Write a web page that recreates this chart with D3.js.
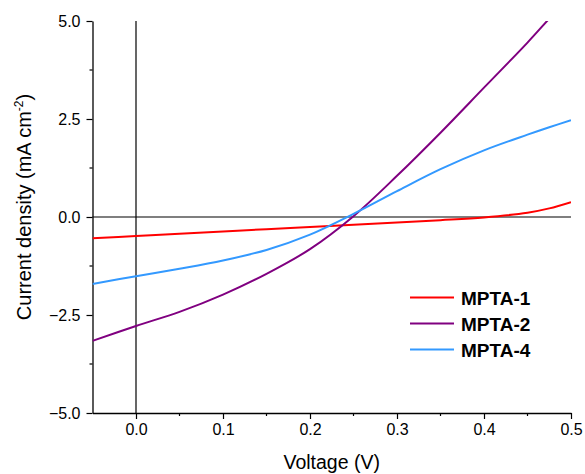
<!DOCTYPE html>
<html><head><meta charset="utf-8">
<script src="https://cdn.jsdelivr.net/npm/d3@7"></script>
<style>body{margin:0;background:#fff}svg{display:block}text{font-family:Arial,"Liberation Sans",sans-serif}</style>
</head><body>
<script>
const voltage = [-0.05, 0.0, 0.05, 0.1, 0.15, 0.2, 0.25, 0.3, 0.35, 0.4, 0.45, 0.475, 0.5];
const mpta1 = [-0.54, -0.485, -0.43, -0.37, -0.31, -0.255, -0.2, -0.14, -0.08, -0.01, 0.11, 0.22, 0.38];
const mpta2 = [-3.16, -2.78, -2.42, -1.98, -1.45, -0.82, 0.02, 1.05, 2.15, 3.3, 4.45, 5.06, 5.65];
const mpta4 = [-1.71, -1.51, -1.32, -1.11, -0.84, -0.45, 0.08, 0.66, 1.22, 1.70, 2.10, 2.29, 2.47];
const seriesNames = ["MPTA-1", "MPTA-2", "MPTA-4"];
const seriesColors = ["#ff0000", "#800080", "#3399ff"];
const xTicks = [0.0, 0.1, 0.2, 0.3, 0.4, 0.5];
const xMinor = [0.05, 0.15, 0.25, 0.35, 0.45];
const yTicks = [-5.0, -2.5, 0.0, 2.5, 5.0];
const yMinor = [-3.75, -1.25, 1.25, 3.75];

const W = 585, H = 474;
const svg = d3.select("body").append("svg").attr("width", W).attr("height", H);
const x = d3.scaleLinear().domain([-0.05, 0.5]).range([92.5, 571]);
const y = d3.scaleLinear().domain([-5, 5]).range([413, 21]);

svg.append("clipPath").attr("id","clip").append("rect")
  .attr("x", x(-0.05)).attr("y", y(5)).attr("width", x(0.5)-x(-0.05)).attr("height", y(-5)-y(5));

// zero lines
svg.append("line").attr("x1", x(0)).attr("x2", x(0)).attr("y1", y(5)).attr("y2", y(-5))
  .attr("stroke","#000").attr("stroke-width",1.2);
svg.append("line").attr("x1", x(-0.05)).attr("x2", x(0.5)).attr("y1", y(0)).attr("y2", y(0))
  .attr("stroke","#000").attr("stroke-width",1.2);

// axes
const fmt = d3.format(".1f");
const gx = svg.append("g").attr("transform", `translate(0,${y(-5)})`)
  .call(d3.axisBottom(x).tickValues(xTicks).tickFormat(fmt).tickSize(6).tickSizeOuter(0).tickPadding(5));
gx.append("g").selectAll("line").data(xMinor).join("line")
  .attr("x1", d=>x(d)).attr("x2", d=>x(d)).attr("y1",0).attr("y2",3).attr("stroke","#000").attr("stroke-width",1.2);
const gy = svg.append("g").attr("transform", `translate(${x(-0.05)},0)`)
  .call(d3.axisLeft(y).tickValues(yTicks).tickFormat(fmt).tickSize(6).tickSizeOuter(0).tickPadding(6));
gy.append("g").selectAll("line").data(yMinor).join("line")
  .attr("y1", d=>y(d)).attr("y2", d=>y(d)).attr("x1",0).attr("x2",-3).attr("stroke","#000").attr("stroke-width",1.2);
[gx, gy].forEach(g => {
  g.select(".domain").attr("stroke","#000").attr("stroke-width",1.3);
  g.selectAll(".tick line").attr("stroke","#000").attr("stroke-width",1.2);
  g.selectAll(".tick text").attr("font-size",16).attr("fill","#000")
    .attr("font-family","Arial, 'Liberation Sans', sans-serif");
});

// series
const allSeries = [mpta1, mpta2, mpta4];
const line = d3.line().x(d=>x(d[0])).y(d=>y(d[1])).curve(d3.curveCatmullRom.alpha(0.5));
const plot = svg.append("g").attr("clip-path","url(#clip)");
allSeries.forEach((s,i) => {
  plot.append("path").datum(voltage.map((v,k)=>[v, s[k]]))
    .attr("d", line).attr("fill","none").attr("stroke", seriesColors[i]).attr("stroke-width", 2);
});

// axis titles
svg.append("text").attr("x", (x(-0.05)+x(0.5))/2).attr("y", 469).attr("text-anchor","middle")
  .attr("font-size", 19.5).text("Voltage (V)");
const yt = svg.append("text").attr("transform", "translate(31,207) rotate(-90)")
  .attr("text-anchor","middle").attr("font-size", 20);
yt.append("tspan").text("Current density (mA cm");
yt.append("tspan").attr("font-size", 12).attr("dy", -8).text("-2");
yt.append("tspan").attr("dy", 8).text(")");

// legend
const lg = svg.append("g");
seriesNames.forEach((n,i) => {
  const ly = 297.5 + i*26;
  lg.append("line").attr("x1",410).attr("x2",454).attr("y1",ly).attr("y2",ly)
    .attr("stroke", seriesColors[i]).attr("stroke-width",2);
  lg.append("text").attr("x",461).attr("y",ly+7).attr("font-size",19).attr("font-weight","bold").text(n);
});
</script>
</body></html>
